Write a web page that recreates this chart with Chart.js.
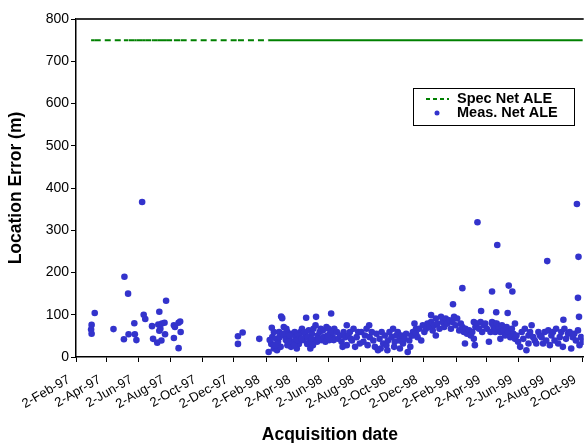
<!DOCTYPE html>
<html>
<head>
<meta charset="utf-8">
<script src="https://cdn.jsdelivr.net/npm/chart.js@4.4.0/dist/chart.umd.min.js"></script>
<style>
  body { margin: 0; background: #fff; }
</style>
</head>
<body>
<canvas id="chart" width="587" height="443"></canvas>
<script>
// x values are days counted from 2-Feb-97
const tickDays = [0, 59, 120, 181, 242, 303, 365, 424, 485, 546, 607, 668, 730, 789, 850, 911, 972];
const tickLabels = ['2-Feb-97', '2-Apr-97', '2-Jun-97', '2-Aug-97', '2-Oct-97', '2-Dec-97',
    '2-Feb-98', '2-Apr-98', '2-Jun-98', '2-Aug-98', '2-Oct-98', '2-Dec-98',
    '2-Feb-99', '2-Apr-99', '2-Jun-99', '2-Aug-99', '2-Oct-99'];

const specNetALE = 750; // metres

// measured net ALE: acquisition day and location error (m)
const measDays = [
    29, 30, 30, 36, 72, 92, 93, 100, 101, 112, 113, 116, 127, 130, 133, 146, 148, 156, 158, 160,
    160, 162, 164, 165, 170, 171, 173, 188, 188, 190, 197, 197, 200, 201,
    311, 311, 320, 352,
    370, 376, 377, 375, 380, 384, 380, 386, 388, 390, 394, 396, 393, 399, 401, 403, 406, 406, 410, 413,
    415, 417, 420, 422, 424, 426, 428, 431, 434, 436, 441, 442, 444, 447, 450, 453, 456, 458, 460, 461,
    463, 464, 468, 471, 474, 481, 485, 488, 490, 493, 495, 496,
    372, 383, 391, 397, 404, 408, 411, 419, 425, 429, 433, 438, 445, 448, 452, 455, 466, 470, 476, 479,
    483, 487, 492,
    501, 504, 507, 510, 514, 517, 520, 520, 523, 526, 530, 533, 536, 539, 542, 545, 548, 552, 555, 558,
    563, 564, 568, 571, 574, 577, 580, 583, 587, 590, 593, 596, 599, 602, 606, 609, 612, 615, 618, 621,
    625, 628, 631, 634, 637, 640, 644, 647, 650, 653, 512, 528, 560, 585, 598, 611, 622, 642,
    647, 650, 653, 656, 659, 663, 666, 669, 672, 675, 679, 682, 682, 685, 688, 691, 691, 694, 698, 701,
    704, 707, 710, 713, 717, 720, 723, 726, 729, 732, 736, 739, 742, 745, 747, 748, 751, 755, 758, 761,
    764, 764, 766, 767, 770, 774, 777, 778, 780, 783, 786, 789, 793, 796, 799, 802, 805, 805,
    742, 724, 799, 771, 809, 831, 838, 905, 962, 965, 964, 807, 829, 966, 936,
    799, 802, 805, 808, 812, 815, 815, 818, 821, 824, 827, 830, 834, 837, 840, 843, 843, 846, 849, 853,
    856, 859, 862, 865, 869, 869, 872, 875, 878, 881, 884, 888, 891, 894, 897, 900, 903, 907, 910, 913,
    916, 919, 922, 926, 929, 932, 935, 938, 941, 945, 948, 951, 954, 957, 960, 964, 967, 970, 973
];
const measALE = [
    65, 76, 55, 104, 66, 42, 190, 150, 54, 80, 54, 40, 367, 100, 90, 73, 43, 34, 77, 107,
    62, 67, 39, 79, 81, 54, 133, 75, 45, 71, 81, 21, 84, 59,
    49, 31, 58, 43,
    12, 69, 47, 31, 20, 43, 59, 16, 36, 59, 96, 92, 24, 71, 51, 40, 59, 28, 42, 24,
    55, 36, 59, 47, 20, 55, 31, 59, 67, 40, 51, 93, 31, 63, 20, 55, 67, 40, 75, 95,
    36, 51, 59, 40, 63, 71, 67, 55, 103, 47, 40, 67,
    40, 28, 47, 55, 67, 36, 51, 28, 40, 51, 43, 59, 47, 36, 43, 28, 43, 67, 47, 36,
    51, 40, 59,
    59, 43, 51, 36, 59, 47, 75, 28, 51, 59, 39, 67, 24, 47, 59, 32, 59, 36, 51, 67,
    75, 47, 59, 39, 24, 55, 16, 43, 59, 32, 51, 28, 39, 59, 47, 67, 36, 51, 59, 39,
    51, 32, 43, 55, 12, 39, 51, 59, 79, 67, 24, 43, 28, 20, 16, 24, 20, 24,
    51, 59, 55, 47, 67, 39, 75, 59, 67, 79, 71, 99, 83, 63, 75, 91, 51, 79, 67, 95,
    83, 71, 91, 79, 87, 67, 83, 95, 75, 91, 63, 79, 71, 59, 32, 67, 55, 63, 51, 59,
    83, 43, 28, 71, 79, 67, 83, 109, 59, 75, 79, 67, 36, 59, 83, 71, 79, 59,
    163, 125, 155, 319, 265, 169, 155, 227, 362, 237, 140, 106, 104, 95, 88,
    79, 75, 67, 79, 71, 59, 43, 75, 63, 51, 71, 59, 47, 67, 55, 79, 43, 51, 36, 24,
    59, 43, 67, 16, 32, 51, 59, 75, 47, 39, 32, 59, 51, 47, 32, 59, 39, 63, 28, 51,
    59, 39, 67, 32, 47, 59, 24, 67, 43, 55, 59, 20, 47, 55, 39, 63, 28, 47, 36
];

const font = "'Liberation Sans', Arial, sans-serif";
const specColor = '#008000';
const measColor = '#3333CC';

const measPoints = measDays.map((d, i) => ({ x: d, y: measALE[i] }));
const specPoints = [...measDays].sort((a, b) => a - b).map(d => ({ x: d, y: specNetALE }));

// top border of the plot + legend drawn inside the plot like the original
const innerLegend = {
    id: 'innerLegend',
    afterDraw(chart) {
        const ctx = chart.ctx;
        const area = chart.chartArea;
        ctx.save();
        ctx.strokeStyle = '#333';
        ctx.lineWidth = 2;
        ctx.beginPath();
        ctx.moveTo(area.left, Math.round(area.top));
        ctx.lineTo(area.right, Math.round(area.top));
        ctx.stroke();

        const x = 413, y = 88, w = 161, h = 37;
        ctx.fillStyle = '#fff';
        ctx.fillRect(x, y, w, h);
        ctx.strokeStyle = '#000';
        ctx.lineWidth = 1;
        ctx.strokeRect(x + 0.5, y + 0.5, w, h);
        ctx.strokeStyle = specColor;
        ctx.lineWidth = 2;
        ctx.setLineDash([4, 3]);
        ctx.beginPath();
        ctx.moveTo(x + 13, y + 11);
        ctx.lineTo(x + 36, y + 11);
        ctx.stroke();
        ctx.setLineDash([]);
        ctx.fillStyle = measColor;
        ctx.beginPath();
        ctx.arc(x + 24, y + 25, 2.5, 0, Math.PI * 2);
        ctx.fill();
        ctx.fillStyle = '#000';
        ctx.font = 'bold 14.5px ' + font;
        ctx.textBaseline = 'middle';
        ctx.fillText('Spec Net ALE', x + 44, y + 11);
        ctx.fillText('Meas. Net ALE', x + 44, y + 25);
        ctx.restore();
    }
};

new Chart(document.getElementById('chart'), {
    type: 'scatter',
    data: {
        datasets: [{
            label: 'Spec Net ALE',
            type: 'line',
            data: specPoints,
            borderColor: specColor,
            borderWidth: 2,
            pointRadius: 0,
            fill: false,
            segment: {
                borderDash: c => (c.p1.x - c.p0.x > 4 ? [6, 4] : undefined)
            }
        }, {
            label: 'Meas. Net ALE',
            data: measPoints,
            backgroundColor: measColor,
            borderWidth: 0,
            pointRadius: 3.3,
            pointHoverRadius: 3.3
        }]
    },
    options: {
        responsive: false,
        animation: false,
        layout: { padding: { top: 19, right: 0, left: 0, bottom: 0 } },
        plugins: {
            legend: { display: false },
            tooltip: { enabled: false }
        },
        scales: {
            x: {
                type: 'linear',
                min: 0,
                max: 975,
                afterBuildTicks: s => { s.ticks = tickDays.map(v => ({ value: v })); },
                afterFit: s => { s.height = 86; s.paddingLeft = 0; s.paddingRight = 0; },
                ticks: {
                    callback: v => tickLabels[tickDays.indexOf(v)],
                    minRotation: 30,
                    maxRotation: 30,
                    autoSkip: false,
                    padding: 10,
                    labelOffset: -7,
                    color: '#000',
                    font: { family: font, size: 13 }
                },
                grid: { drawOnChartArea: false, tickLength: 5, color: '#000' },
                border: { color: '#000', width: 1.5 },
                title: {
                    display: true,
                    text: 'Acquisition date',
                    color: '#000',
                    padding: { top: 0, bottom: -3 },
                    font: { family: font, size: 17.5, weight: 'bold' }
                }
            },
            y: {
                min: 0,
                max: 800,
                afterFit: s => { s.width = 76; s.paddingTop = 0; s.paddingBottom = 0; },
                ticks: {
                    stepSize: 100,
                    padding: 2,
                    color: '#000',
                    font: { family: font, size: 14 }
                },
                grid: { drawOnChartArea: false, tickLength: 5, color: '#000' },
                border: { color: '#000', width: 1.5 },
                title: {
                    display: true,
                    text: 'Location Error (m)',
                    color: '#000',
                    padding: { top: 6, bottom: 0 },
                    font: { family: font, size: 17.5, weight: 'bold' }
                }
            }
        }
    },
    plugins: [innerLegend]
});
</script>
</body>
</html>
